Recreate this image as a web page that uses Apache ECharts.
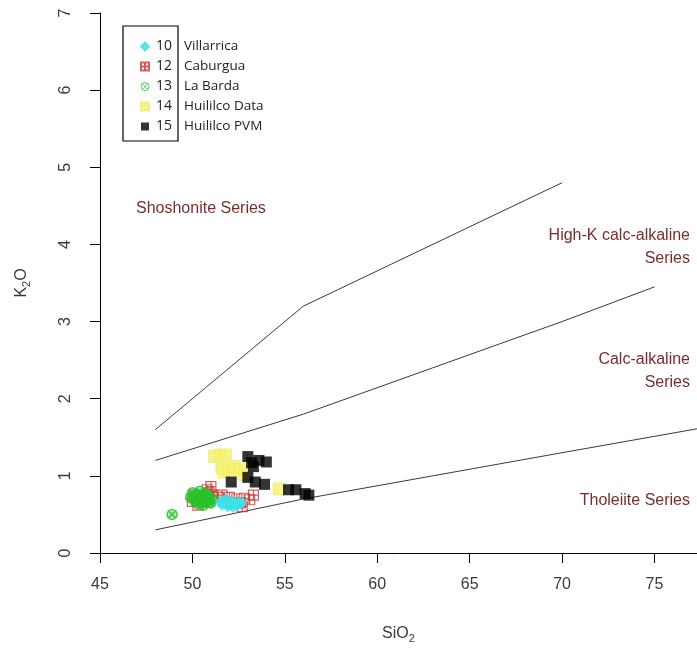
<!DOCTYPE html>
<html>
<head>
<meta charset="utf-8">
<script src="https://cdn.jsdelivr.net/npm/echarts@6/dist/echarts.min.js"></script>
<style>
html,body{margin:0;padding:0;background:#fff;}
#chart{width:697px;height:651px;}
</style>
</head>
<body>
<div id="chart"></div>
<script>
// ---- data ----
const xTicks = [45, 50, 55, 60, 65, 70, 75];
const yTicks = [0, 1, 2, 3, 4, 5, 6, 7];

const seriesNames = ['Villarrica', 'Caburgua', 'La Barda', 'Huililco Data', 'Huililco PVM'];
const seriesCodes = ['10', '12', '13', '14', '15'];

const villarrica = [[51.5,0.66],[51.6,0.62],[51.7,0.68],[51.8,0.64],[51.9,0.60],[52.0,0.66],[52.1,0.62],[52.2,0.68],[52.3,0.64],[52.4,0.61],[52.5,0.66],[52.6,0.63],[51.8,0.70],[52.2,0.59],[52.0,0.62],[52.7,0.66],[51.6,0.67]];
const caburgua = [[50.0,0.67],[50.1,0.75],[50.3,0.62],[50.8,0.82],[51.0,0.86],[51.1,0.75],[51.4,0.72],[51.6,0.75],[52.0,0.72],[52.4,0.70],[52.6,0.65],[52.7,0.60],[53.1,0.69],[53.3,0.75],[50.9,0.78],[52.8,0.71]];
const laBarda = [[48.9,0.50],[49.9,0.72],[50.0,0.78],[50.1,0.68],[50.2,0.75],[50.3,0.70],[50.4,0.80],[50.5,0.65],[50.5,0.74],[50.6,0.70],[50.7,0.77],[50.8,0.68],[50.9,0.72],[51.0,0.65],[51.1,0.70],[50.3,0.64],[50.6,0.62],[50.4,0.73],[50.7,0.66],[50.2,0.69],[50.8,0.75],[50.5,0.69],[50.9,0.66],[50.1,0.73]];
const huililcoData = [[51.2,1.25],[51.5,1.27],[51.8,1.27],[51.6,1.10],[51.7,1.05],[52.0,1.08],[52.3,1.12],[52.6,1.08],[52.8,1.02],[54.7,0.83]];
const huililcoPVM = [[53.0,1.25],[53.2,1.17],[53.6,1.20],[54.0,1.18],[53.3,1.12],[52.1,0.92],[53.0,0.98],[53.4,0.92],[53.9,0.89],[55.2,0.82],[55.6,0.82],[56.1,0.77],[56.3,0.75]];

// boundary lines (Peccerillo & Taylor style)
const shoshoniteLine = [[48,1.6],[56,3.2],[70,4.8]];
const highKLine = [[48,1.2],[56,1.8],[63,2.4],[70,3.0],[75,3.45]];
const tholeiiteLine = [[48,0.3],[56,0.7],[63,1.0],[70,1.3],[77.3,1.61]];

const fieldLabels = ['Shoshonite Series', 'High-K calc-alkaline\nSeries', 'Calc-alkaline\nSeries', 'Tholeiite Series'];

// ---- chart ----
const chart = echarts.init(document.getElementById('chart'));
const labelColor = '#7b2c2c';
const tickFont = {fontFamily: 'Liberation Sans, Arial, sans-serif', fontSize: 16, color: '#3a3a3a'};
const fieldFont = '16px "Liberation Sans", Arial, sans-serif';

const squarePlus = 'path://M0,0L10,0L10,10L0,10Z M5,0L5,10 M0,5L10,5';
const circleX = 'path://M10,5A5,5,0,1,1,0,5A5,5,0,1,1,10,5Z M1.6,1.6L8.4,8.4 M8.4,1.6L1.6,8.4';

function boundary(data) {
  return {type: 'line', data: data, symbol: 'none', silent: true, clip: true,
    lineStyle: {color: '#3a3a3a', width: 1}, z: 1};
}

const legendData = seriesNames.map(n => n === 'La Barda'
  ? {name: n, itemStyle: {color: 'rgba(0,0,0,0)', borderColor: '#2cc02c', borderWidth: 1}}
  : {name: n});

const option = {
  animation: false,
  backgroundColor: '#fff',
  grid: {left: 100, top: 13, right: 0, bottom: 98, containLabel: false},
  xAxis: {
    type: 'value', min: 45, max: 77.3, interval: 5,
    axisLine: {lineStyle: {color: '#000', width: 1}},
    axisTick: {length: 10, lineStyle: {color: '#000'}},
    splitLine: {show: false},
    axisLabel: Object.assign({margin: 24, showMaxLabel: false,
      formatter: v => xTicks.includes(v) ? String(v) : ''}, tickFont),
    name: 'SiO{s|2}', nameLocation: 'middle', nameGap: 70,
    nameTextStyle: {fontFamily: 'Liberation Sans, Arial, sans-serif', fontSize: 16, color: '#3a3a3a',
      rich: {s: {fontSize: 11, padding: [10, 0, 0, 0], fontFamily: 'Liberation Sans, Arial, sans-serif', color: '#3a3a3a'}}}
  },
  yAxis: {
    type: 'value', min: 0, max: 7, interval: 1,
    axisLine: {show: true, lineStyle: {color: '#000', width: 1}},
    axisTick: {show: true, length: 10, lineStyle: {color: '#000'}},
    splitLine: {show: false},
    axisLabel: Object.assign({margin: 26, rotate: 90,
      formatter: v => yTicks.includes(v) ? String(v) : ''}, tickFont),
    name: 'K{s|2}O', nameLocation: 'middle', nameGap: 68, nameRotate: 90,
    nameTextStyle: {fontFamily: 'Liberation Sans, Arial, sans-serif', fontSize: 16, color: '#3a3a3a',
      rich: {s: {fontSize: 11, padding: [10, 0, 0, 0], fontFamily: 'Liberation Sans, Arial, sans-serif', color: '#3a3a3a'}}}
  },
  legend: {
    orient: 'vertical', left: 135, top: 33, itemWidth: 8, itemHeight: 8, itemGap: 3,
    selectedMode: false,
    data: legendData,
    formatter: name => '{c|' + seriesCodes[seriesNames.indexOf(name)] + '}{n|' + name + '}',
    textStyle: {
      fontFamily: 'Open Sans, Noto Sans, sans-serif', fontSize: 14, color: '#222',
      rich: {
        c: {width: 28, height: 17, lineHeight: 17, fontSize: 14, fontFamily: 'Open Sans, Noto Sans, sans-serif', color: '#222', padding: [0, 0, 0, 2]},
        n: {fontSize: 13.5, height: 17, lineHeight: 17, fontFamily: 'Open Sans, Noto Sans, sans-serif', color: '#222'}
      }
    }
  },
  graphic: [
    {type: 'rect', x: 123, y: 26, shape: {width: 55, height: 115},
      style: {fill: 'none', stroke: '#000', lineWidth: 1.2}, z: 10},
    {type: 'text', x: 136, y: 201, style: {text: fieldLabels[0], fill: labelColor, font: fieldFont}},
    {type: 'text', x: 690, y: 224, style: {text: fieldLabels[1], fill: labelColor, align: 'right', lineHeight: 23, font: fieldFont}},
    {type: 'text', x: 690, y: 348, style: {text: fieldLabels[2], fill: labelColor, align: 'right', lineHeight: 23, font: fieldFont}},
    {type: 'text', x: 690, y: 493, style: {text: fieldLabels[3], fill: labelColor, align: 'right', font: fieldFont}}
  ],
  series: [
    boundary(shoshoniteLine),
    boundary(highKLine),
    boundary(tholeiiteLine),
    {name: 'Caburgua', type: 'scatter', data: caburgua, symbol: squarePlus, symbolSize: 10, z: 3,
      itemStyle: {color: 'rgba(0,0,0,0)', borderColor: '#c8382e', borderWidth: 1.2}},
    {name: 'La Barda', type: 'scatter', data: laBarda, symbol: circleX, symbolSize: 10, z: 4,
      itemStyle: {color: 'rgba(40,200,40,0.45)', borderColor: '#2cc02c', borderWidth: 1.6}},
    {name: 'Villarrica', type: 'scatter', data: villarrica, symbol: 'diamond', symbolSize: 10, z: 5,
      itemStyle: {color: '#3fe0ea', borderColor: '#3fe0ea', borderWidth: 1}},
    {name: 'Huililco Data', type: 'scatter', data: huililcoData, symbol: 'rect', symbolSize: 12, z: 6,
      itemStyle: {color: '#f6f36a', borderColor: '#ecea7a', borderWidth: 1}},
    {name: 'Huililco PVM', type: 'scatter', data: huililcoPVM, symbol: 'rect', symbolSize: 11, z: 7,
      itemStyle: {color: '#000', borderColor: '#000', borderWidth: 0}}
  ]
};
chart.setOption(option);
</script>
</body>
</html>
